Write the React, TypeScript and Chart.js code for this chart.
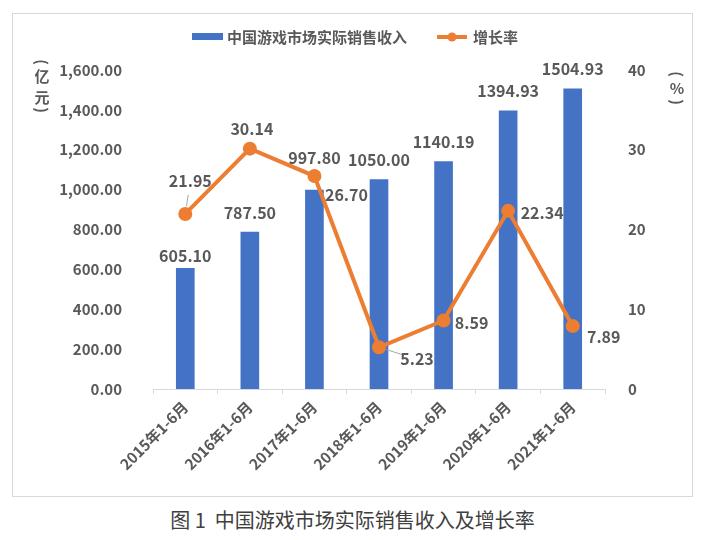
import React, { useEffect, useRef } from "react";
import { Chart, registerables } from "chart.js";

Chart.register(...registerables);

const categories = [
  "2015年1-6月",
  "2016年1-6月",
  "2017年1-6月",
  "2018年1-6月",
  "2019年1-6月",
  "2020年1-6月",
  "2021年1-6月",
];
const revenue = [605.1, 787.5, 997.8, 1050.0, 1140.19, 1394.93, 1504.93];
const growth = [21.95, 30.14, 26.7, 5.23, 8.59, 22.34, 7.89];
const revenueAxis = { min: 0, max: 1600, step: 200 };
const growthAxis = { min: 0, max: 40, step: 10 };
const seriesNames = ["中国游戏市场实际销售收入", "增长率"];
const leftTitle = ["(", "亿", "元", ")"];
const rightTitle = ["(", "%", ")"];
const caption = "图 1  中国游戏市场实际销售收入及增长率";

// label placement styles (relative offsets from the marks)
const barLabelDy = [-12, -19, -32, -20, -20, -20, -20];
const lineLabelOffset: [number, number][] = [
  [5, -33],
  [2, -20],
  [32, 19],
  [38, 12],
  [28, 2],
  [34, 2],
  [31, 11],
];
const leaderIdx = [0, 3];

const FONT = '"Noto Sans CJK SC", "Noto Sans", sans-serif';
const TEXT = "#595959";
const BLUE = "#4472C4";
const ORANGE = "#ED7D31";

function drawVertical(ctx: CanvasRenderingContext2D, chars: string[], x: number, ys: number[]) {
  chars.forEach((c, i) => {
    if (c === "(" || c === ")") {
      ctx.save();
      ctx.translate(x, ys[i]);
      ctx.rotate(Math.PI / 2);
      ctx.fillText(c, 0, 0);
      ctx.restore();
    } else {
      ctx.fillText(c, x, ys[i]);
    }
  });
}

const overlayPlugin = {
  id: "overlay",
  afterDatasetsDraw(chart: any) {
    const ctx = chart.ctx as CanvasRenderingContext2D;
    ctx.save();
    ctx.font = `bold 16px ${FONT}`;
    ctx.fillStyle = TEXT;
    ctx.textAlign = "center";
    ctx.textBaseline = "middle";
    const barMeta = chart.getDatasetMeta(1);
    barMeta.data.forEach((el: any, i: number) => {
      ctx.fillText(revenue[i].toFixed(2), el.x, el.y + barLabelDy[i]);
    });
    const lineMeta = chart.getDatasetMeta(0);
    lineMeta.data.forEach((el: any, i: number) => {
      const [dx, dy] = lineLabelOffset[i];
      if (leaderIdx.includes(i)) {
        ctx.strokeStyle = "#a6a6a6";
        ctx.lineWidth = 1;
        ctx.beginPath();
        const len = Math.hypot(dx, dy);
        const ux = dx / len;
        const uy = dy / len;
        ctx.moveTo(el.x + ux * 8, el.y + uy * 8);
        ctx.lineTo(el.x + ux * (len - 14), el.y + uy * (len - 14));
        ctx.stroke();
      }
      ctx.fillText(growth[i].toFixed(2), el.x + dx, el.y + dy);
    });

    // legend
    ctx.textAlign = "left";
    ctx.font = `bold 15px ${FONT}`;
    ctx.fillStyle = BLUE;
    ctx.fillRect(192, 33, 31, 7);
    ctx.fillStyle = TEXT;
    ctx.fillText(seriesNames[0], 227, 37);
    ctx.strokeStyle = ORANGE;
    ctx.lineWidth = 4;
    ctx.beginPath();
    ctx.moveTo(437, 37);
    ctx.lineTo(467, 37);
    ctx.stroke();
    ctx.fillStyle = ORANGE;
    ctx.beginPath();
    ctx.arc(452, 37, 4.5, 0, Math.PI * 2);
    ctx.fill();
    ctx.fillStyle = TEXT;
    ctx.fillText(seriesNames[1], 473, 37);

    // axis titles
    ctx.textAlign = "center";
    ctx.font = `bold 15px ${FONT}`;
    drawVertical(ctx, leftTitle, 42, [62, 76, 97, 110]);
    drawVertical(ctx, rightTitle, 677, [74, 88, 102]);
    ctx.restore();
  },
};

export default function App() {
  const ref = useRef<HTMLCanvasElement>(null);
  useEffect(() => {
    document.body.style.margin = "0";
    const chart = new Chart(ref.current as HTMLCanvasElement, {
      type: "bar",
      data: {
        labels: categories,
        datasets: [
          {
            type: "line",
            label: seriesNames[1],
            data: growth,
            yAxisID: "y1",
            borderColor: ORANGE,
            backgroundColor: ORANGE,
            borderWidth: 4,
            pointRadius: 7,
            pointBackgroundColor: ORANGE,
            pointBorderWidth: 0,
            order: 0,
          } as any,
          {
            type: "bar",
            label: seriesNames[0],
            data: revenue,
            yAxisID: "y",
            backgroundColor: BLUE,
            barThickness: 18,
            order: 1,
          },
        ],
      },
      options: {
        responsive: false,
        animation: false,
        layout: { padding: { top: 70, left: 0, right: 0, bottom: 0 } },
        plugins: { legend: { display: false }, tooltip: { enabled: false } },
        scales: {
          x: {
            offset: true,
            grid: {
              display: true,
              drawOnChartArea: false,
              drawTicks: true,
              tickLength: 5,
              color: "#d9d9d9",
              offset: true,
            },
            border: { display: true, color: "#d9d9d9" },
            ticks: {
              minRotation: 45,
              maxRotation: 45,
              padding: 4,
              color: TEXT,
              font: { family: FONT, size: 15, weight: "bold" },
            },
            afterFit(scale: any) {
              scale.height = 111;
            },
          },
          y: {
            position: "left",
            min: revenueAxis.min,
            max: revenueAxis.max,
            grid: { display: false },
            border: { display: false },
            ticks: {
              stepSize: revenueAxis.step,
              padding: 23,
              color: TEXT,
              font: { family: FONT, size: 15, weight: "bold" },
              callback: (v: any) =>
                Number(v).toLocaleString("en-US", {
                  minimumFractionDigits: 2,
                  maximumFractionDigits: 2,
                }),
            },
            afterFit(scale: any) {
              scale.width = 153;
            },
          },
          y1: {
            position: "right",
            min: growthAxis.min,
            max: growthAxis.max,
            grid: { display: false },
            border: { display: false },
            ticks: {
              stepSize: growthAxis.step,
              padding: 15,
              color: TEXT,
              font: { family: FONT, size: 15, weight: "bold" },
            },
            afterFit(scale: any) {
              scale.width = 100;
            },
          },
        },
      },
      plugins: [overlayPlugin],
    });
    return () => chart.destroy();
  }, []);

  return (
    <div style={{ position: "relative", width: 705, height: 540, background: "#fff" }}>
      <div
        style={{
          position: "absolute",
          left: 12,
          top: 13,
          width: 681,
          height: 484,
          boxSizing: "border-box",
          border: "1px solid #d9d9d9",
        }}
      />
      <canvas
        ref={ref}
        width={705}
        height={500}
        style={{ position: "absolute", left: 0, top: 0, width: 705, height: 500 }}
      />
      <div
        style={{
          position: "absolute",
          left: 0,
          top: 506,
          width: 705,
          textAlign: "center",
          fontFamily: FONT,
          fontSize: 20,
          color: "#404040",
          lineHeight: "28px",
          whiteSpace: "pre",
        }}
      >
        {caption}
      </div>
    </div>
  );
}
